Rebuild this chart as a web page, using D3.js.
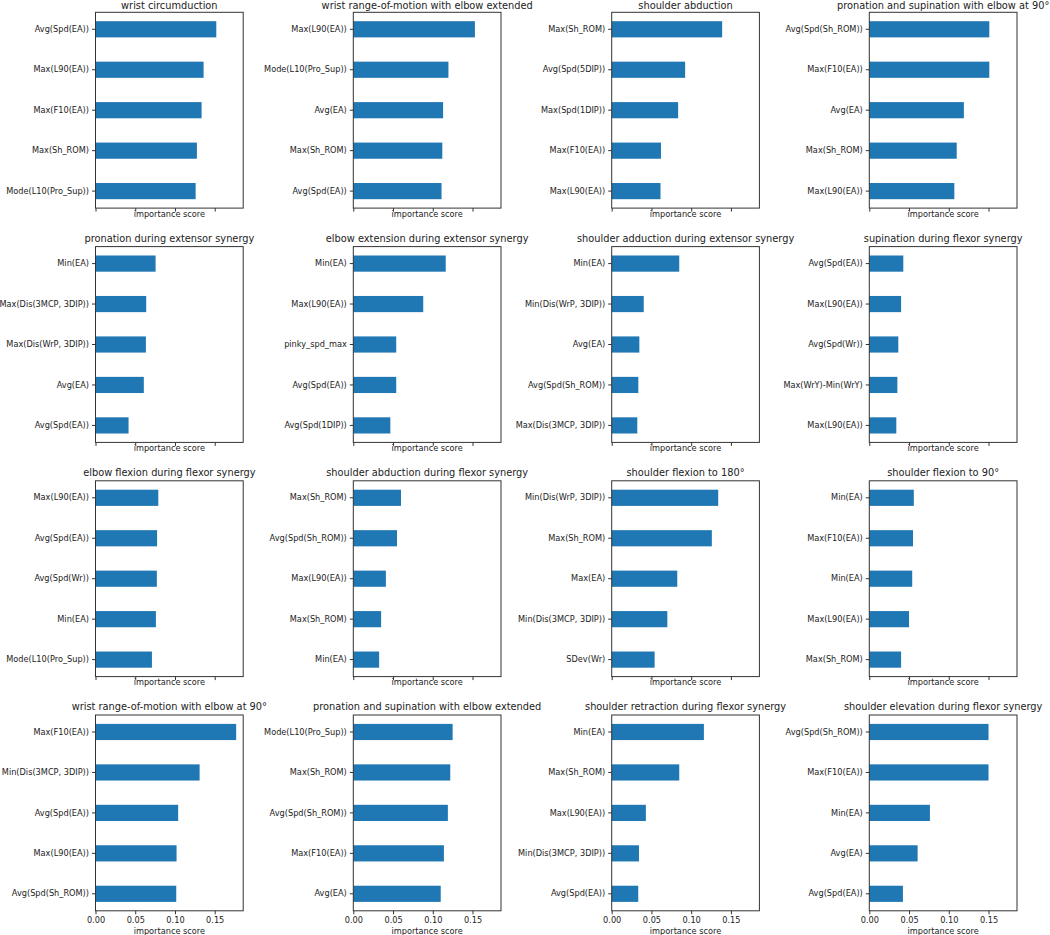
<!DOCTYPE html>
<html>
<head>
<meta charset="utf-8">
<script src="https://cdn.jsdelivr.net/npm/d3@7"></script>
<style>
  html, body { margin: 0; padding: 0; background: #fff; }
  svg { display: block; font-family: "DejaVu Sans", sans-serif; }
</style>
</head>
<body>
<svg id="chart" width="1050" height="935"></svg>
<script>
// ---- data ----
const titles = [
  "wrist circumduction",
  "wrist range-of-motion with elbow extended",
  "shoulder abduction",
  "pronation and supination with elbow at 90°",
  "pronation during extensor synergy",
  "elbow extension during extensor synergy",
  "shoulder adduction during extensor synergy",
  "supination during flexor synergy",
  "elbow flexion during flexor synergy",
  "shoulder abduction during flexor synergy",
  "shoulder flexion to 180°",
  "shoulder flexion to 90°",
  "wrist range-of-motion with elbow at 90°",
  "pronation and supination with elbow extended",
  "shoulder retraction during flexor synergy",
  "shoulder elevation during flexor synergy"
];

const features = [
  ["Avg(Spd(EA))", "Max(L90(EA))", "Max(F10(EA))", "Max(Sh_ROM)", "Mode(L10(Pro_Sup))"],
  ["Max(L90(EA))", "Mode(L10(Pro_Sup))", "Avg(EA)", "Max(Sh_ROM)", "Avg(Spd(EA))"],
  ["Max(Sh_ROM)", "Avg(Spd(5DIP))", "Max(Spd(1DIP))", "Max(F10(EA))", "Max(L90(EA))"],
  ["Avg(Spd(Sh_ROM))", "Max(F10(EA))", "Avg(EA)", "Max(Sh_ROM) ", "Max(L90(EA))"],
  ["Min(EA)", "Max(Dis(3MCP, 3DIP))", "Max(Dis(WrP, 3DIP))", "Avg(EA)", "Avg(Spd(EA))"],
  ["Min(EA)", "Max(L90(EA))", "pinky_spd_max", "Avg(Spd(EA))", "Avg(Spd(1DIP))"],
  ["Min(EA)", "Min(Dis(WrP, 3DIP))", "Avg(EA)", "Avg(Spd(Sh_ROM))", "Max(Dis(3MCP, 3DIP))"],
  ["Avg(Spd(EA))", "Max(L90(EA))", "Avg(Spd(Wr))", "Max(WrY)-Min(WrY)", "Max(L90(EA))"],
  ["Max(L90(EA))", "Avg(Spd(EA))", "Avg(Spd(Wr))", "Min(EA)", "Mode(L10(Pro_Sup))"],
  ["Max(Sh_ROM)", "Avg(Spd(Sh_ROM))", "Max(L90(EA))", "Max(Sh_ROM)", "Min(EA)"],
  ["Min(Dis(WrP, 3DIP))", "Max(Sh_ROM)", "Max(EA)", "Min(Dis(3MCP, 3DIP))", "SDev(Wr)"],
  ["Min(EA)", "Max(F10(EA))", "Min(EA)", "Max(L90(EA))", "Max(Sh_ROM)"],
  ["Max(F10(EA))", "Min(Dis(3MCP, 3DIP))", "Avg(Spd(EA))", "Max(L90(EA))", "Avg(Spd(Sh_ROM))"],
  ["Mode(L10(Pro_Sup))", "Max(Sh_ROM) ", "Avg(Spd(Sh_ROM))", "Max(F10(EA))", "Avg(EA)"],
  ["Min(EA)", "Max(Sh_ROM)", "Max(L90(EA))", "Min(Dis(3MCP, 3DIP))", "Avg(Spd(EA))"],
  ["Avg(Spd(Sh_ROM))", "Max(F10(EA))", "Min(EA)", "Avg(EA)", "Avg(Spd(EA))"]
];

const scores = [
  [0.152, 0.136, 0.1335, 0.1276, 0.126],
  [0.153, 0.1197, 0.113, 0.112, 0.111],
  [0.139, 0.0924, 0.0836, 0.062, 0.0614],
  [0.151, 0.151, 0.119, 0.110, 0.107],
  [0.0756, 0.0638, 0.0634, 0.0608, 0.0416],
  [0.1163, 0.088, 0.054, 0.054, 0.0466],
  [0.085, 0.0403, 0.0348, 0.0335, 0.0322],
  [0.0428, 0.040, 0.0365, 0.0353, 0.034],
  [0.079, 0.0775, 0.0772, 0.076, 0.071],
  [0.060, 0.055, 0.041, 0.035, 0.0325],
  [0.134, 0.126, 0.0825, 0.070, 0.054],
  [0.056, 0.055, 0.054, 0.050, 0.040],
  [0.177, 0.131, 0.104, 0.102, 0.1016],
  [0.125, 0.122, 0.119, 0.114, 0.110],
  [0.116, 0.085, 0.043, 0.0343, 0.0334],
  [0.150, 0.150, 0.0763, 0.0608, 0.0423]
];

const xTicks = [0.00, 0.05, 0.10, 0.15];
const xLabel = "importance score";

// ---- layout ----
const colLeft = [95.5, 353.3, 611.7, 869.3];
const rowTop = [12.3, 246.6, 480.8, 715];
const panelW = 147.7;
const panelH = 195.8;
const barColor = "#1f77b4";
const ink = "#222";
const spine = "#333";

const svg = d3.select("#chart");

const xMax = d3.max(scores.flat()) * 1.05;
const x = d3.scaleLinear().domain([0, xMax]).range([0, panelW]);

titles.forEach((title, p) => {
  const r = Math.floor(p / 4), c = p % 4;
  const g = svg.append("g").attr("transform", `translate(${colLeft[c]},${rowTop[r]})`);
  const labs = features[p];
  const vals = scores[p];
  const y = d3.scaleBand().domain(d3.range(labs.length)).range([0, panelH])
    .paddingInner(0.6).paddingOuter(0.22);

  // bars
  g.selectAll("rect.bar").data(vals).join("rect")
    .attr("class", "bar")
    .attr("x", x(0))
    .attr("y", (d, i) => y(i))
    .attr("width", d => x(d) - x(0))
    .attr("height", y.bandwidth())
    .attr("fill", barColor);

  // y axis
  const ya = g.append("g").call(
    d3.axisLeft(y).tickSize(3.5).tickPadding(3).tickFormat(i => labs[i])
  );
  ya.select(".domain").remove();
  ya.selectAll(".tick line").attr("stroke", spine);
  ya.selectAll(".tick text").attr("fill", ink).style("font-size", "8.2px")
    .style("font-family", "DejaVu Sans, sans-serif");

  // x axis
  const bottomRow = r === 3;
  const xa = g.append("g").attr("transform", `translate(0,${panelH})`).call(
    d3.axisBottom(x).tickValues(xTicks).tickSize(3.5).tickPadding(3)
      .tickFormat(bottomRow ? d3.format(".2f") : () => "")
  );
  xa.select(".domain").remove();
  xa.selectAll(".tick line").attr("stroke", spine);
  xa.selectAll(".tick text").attr("fill", ink).style("font-size", "8.2px")
    .style("font-family", "DejaVu Sans, sans-serif");

  // frame
  g.append("rect").attr("x", 0).attr("y", 0).attr("width", panelW).attr("height", panelH)
    .attr("fill", "none").attr("stroke", spine).attr("stroke-width", 1);

  // x label
  g.append("text")
    .attr("x", panelW / 2)
    .attr("y", panelH + (bottomRow ? 23.5 : 8.8))
    .attr("text-anchor", "middle")
    .attr("fill", ink)
    .style("font-size", "8.2px")
    .text(xLabel);

  // title
  g.append("text")
    .attr("x", panelW / 2)
    .attr("y", r === 0 ? -3.6 : -5)
    .attr("text-anchor", "middle")
    .attr("fill", ink)
    .style("font-size", "9.8px")
    .text(title);
});
</script>
</body>
</html>
